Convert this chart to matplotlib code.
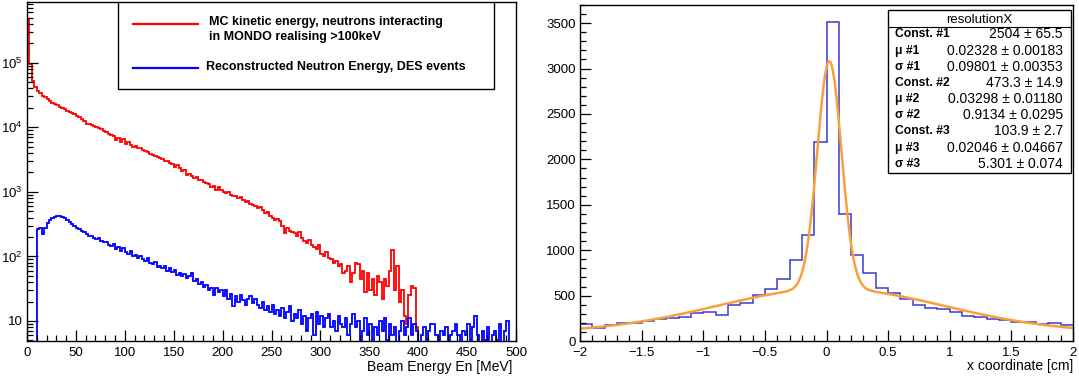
import numpy as np
import matplotlib
matplotlib.use("Agg")
import matplotlib.pyplot as plt
from matplotlib.patches import Rectangle
from matplotlib.ticker import MultipleLocator, FixedLocator, FixedFormatter, LogLocator, NullFormatter, FuncFormatter

plt.rcParams['font.family'] = ['Liberation Sans', 'DejaVu Sans']
plt.rcParams['mathtext.fontset'] = 'custom'
plt.rcParams['mathtext.rm'] = 'Liberation Sans'
plt.rcParams['mathtext.it'] = 'Liberation Sans'

# ---- left panel: energy spectra, 2.5 MeV bins from 0 to 500 ----
energy_edges = np.arange(0, 502.5, 2.5)

mc_kinetic = [
    460000, 95000, 52000, 42000, 37000, 33500, 31000, 29000, 27000, 25500,
    24000, 23000, 21800, 20700, 19800, 18900, 18000, 17300, 16400, 15800,
    14900, 14300, 13500, 12600, 11300, 11200, 10900, 10500, 10000, 9600,
    9300, 8800, 8500, 8000, 7700, 7300, 6400, 6900, 6000, 6500,
    5500, 5900, 5300, 5000, 5200, 4800, 4700, 4400, 4300, 4100,
    3900, 3700, 3600, 3450, 3300, 3200, 3000, 3050, 2800, 2700,
    2450, 2650, 2300, 2100, 2200, 1850, 1900, 1750, 1650, 1700,
    1500, 1550, 1400, 1350, 1300, 1200, 1250, 1050, 1180, 1050,
    1000, 950, 1000, 900, 870, 850, 800, 840, 760, 700,
    720, 640, 620, 600, 560, 580, 520, 470, 480, 430,
    400, 370, 380, 350, 300, 230, 280, 250, 240, 230,
    210, 240, 190, 175, 160, 180, 150, 140, 130, 150,
    110, 100, 115, 95, 90, 80, 85, 70, 75, 55,
    60, 70, 40, 55, 80, 75, 45, 60, 28, 55,
    30, 45, 25, 50, 40, 22, 45, 35, 60, 125,
    30, 70, 20, 30, 12, 9, 25, 35, 32, 8,
] + [0] * 40

des_reco = [
    0, 0, 0, 0, 270, 280, 220, 280, 330, 370,
    395, 410, 420, 415, 410, 390, 370, 345, 320, 300,
    280, 265, 245, 235, 220, 205, 210, 195, 185, 190,
    175, 165, 170, 150, 145, 155, 130, 140, 120, 135,
    115, 110, 120, 100, 105, 95, 100, 90, 85, 95,
    78, 75, 82, 68, 72, 65, 70, 60, 65, 58,
    62, 52, 56, 50, 54, 46, 50, 56, 42, 45,
    38, 40, 34, 36, 30, 33, 25, 32, 28, 30,
    24, 30, 22, 26, 17, 24, 20, 25, 21, 18,
    22, 24, 19, 22, 18, 16, 20, 15, 17, 14,
    18, 13, 15, 12, 16, 11, 14, 17, 10, 13,
    11, 15, 9, 12, 7, 11, 13, 6, 14, 9,
    12, 8, 11, 13, 8, 10, 7, 12, 9, 8,
    11, 6, 9, 13, 8, 10, 0, 7, 11, 6,
    9, 5, 8, 6, 10, 7, 11, 5, 9, 6,
    8, 0, 7, 10, 6, 8, 11, 6, 9, 7,
    0, 6, 8, 5, 7, 9, 9, 6, 0, 7,
    6, 8, 0, 6, 7, 9, 6, 0, 7, 6,
    9, 5, 8, 12, 6, 0, 7, 5, 8, 0,
    6, 7, 5, 9, 0, 7, 10, 0, 0, 0,
]

legend_labels = ["MC kinetic energy, neutrons interacting\nin MONDO realising >100keV",
                 "Reconstructed Neutron Energy, DES events"]

# ---- right panel: x resolution, 0.1 cm bins from -2 to 2 ----
x_edges = np.round(np.arange(-2.0, 2.05, 0.1), 2)
x_counts = [
    192, 144, 181, 200, 200, 218, 237, 255, 266, 303,
    322, 281, 396, 414, 507, 570, 681, 895, 1162, 2190,
    3512, 1395, 951, 747, 581, 525, 463, 396, 366, 352,
    315, 278, 259, 240, 229, 211, 204, 192, 200, 181,
]

# triple gaussian fit results from the stats box
fit_const = [2504, 473.3, 103.9]
fit_mean = [0.02328, 0.03298, 0.02046]
fit_sigma = [0.09801, 0.9134, 5.301]
stat_names = ["Const. #1", "\u03bc #1", "\u03c3 #1",
              "Const. #2", "\u03bc #2", "\u03c3 #2",
              "Const. #3", "\u03bc #3", "\u03c3 #3"]
stat_values = ["2504 \u00b1 65.5", "0.02328 \u00b1 0.00183", "0.09801 \u00b1 0.00353",
               "473.3 \u00b1 14.9", "0.03298 \u00b1 0.01180", "0.9134 \u00b1 0.0295",
               "103.9 \u00b1 2.7", "0.02046 \u00b1 0.04667", "5.301 \u00b1 0.074"]

W, H = 1079, 377
fig = plt.figure(figsize=(W / 100, H / 100), dpi=100)

def px_axes(x0, x1, ytop, ybot):
    return fig.add_axes([x0 / W, 1 - ybot / H, (x1 - x0) / W, (ybot - ytop) / H])

ax1 = px_axes(27, 516, 2, 341)
ax2 = px_axes(580, 1073, 5, 341)

tick_fs = 9.5

# ---------- left ----------
mc = np.where(np.array(mc_kinetic) > 0, mc_kinetic, 0.5)
des = np.where(np.array(des_reco) > 0, des_reco, 0.5)
ax1.stairs(mc, energy_edges, color='#ff0000', lw=1.3, baseline=None)
ax1.stairs(des, energy_edges, color='#0000ff', lw=1.3, baseline=None)
ax1.set_yscale('log')
ax1.set_xlim(0, 500)
ax1.set_ylim(4.9, 8.7e5)
ax1.xaxis.set_major_locator(MultipleLocator(50))
ax1.xaxis.set_minor_locator(MultipleLocator(10))
ax1.yaxis.set_major_locator(FixedLocator([10, 1e2, 1e3, 1e4, 1e5]))
ax1.yaxis.set_major_formatter(FixedFormatter(['10', r'$10^2$', r'$10^3$', r'$10^4$', r'$10^5$']))
ax1.yaxis.set_minor_locator(LogLocator(base=10, subs=np.arange(2, 10), numticks=20))
ax1.yaxis.set_minor_formatter(NullFormatter())
ax1.set_xlabel('Beam Energy En [MeV]', fontsize=10, labelpad=1)
ax1.xaxis.set_label_coords(0.992, -0.055, transform=ax1.transAxes)
ax1.xaxis.label.set_ha('right')
ax1.xaxis.label.set_va('top')

# legend box drawn in axes fraction
ax1.add_patch(Rectangle((0.186, 0.743), 0.769, 0.257, transform=ax1.transAxes,
                        facecolor='white', edgecolor='black', lw=1.0, zorder=5))
ax1.plot([0.2168, 0.3497], [0.935, 0.935], transform=ax1.transAxes, color='#ff0000', lw=1.6, zorder=6)
ax1.text(0.372, 0.9196, legend_labels[0], transform=ax1.transAxes, fontsize=9,
         fontweight='bold', va='center', ha='left', linespacing=1.32, zorder=6)
ax1.plot([0.2168, 0.3497], [0.8065, 0.8065], transform=ax1.transAxes, color='#0000ff', lw=1.6, zorder=6)
ax1.text(0.366, 0.808, legend_labels[1], transform=ax1.transAxes, fontsize=9,
         fontweight='bold', va='center', ha='left', zorder=6)

# ---------- right ----------
ax2.stairs(x_counts, x_edges, color='#3a3acb', lw=1.1, baseline=None)
xf = np.linspace(-2, 2, 801)
yf = np.zeros_like(xf)
for c, m, s in zip(fit_const, fit_mean, fit_sigma):
    yf += c * np.exp(-0.5 * ((xf - m) / s) ** 2)
ax2.plot(xf, yf, color='#f7a03c', lw=1.8)
ax2.set_xlim(-2, 2)
ax2.set_ylim(0, 3700)
ax2.xaxis.set_major_locator(MultipleLocator(0.5))
ax2.xaxis.set_minor_locator(MultipleLocator(0.1))
ax2.xaxis.set_major_formatter(FuncFormatter(lambda v, p: ('%g' % v).replace('-', '\u2212')))
ax2.yaxis.set_major_locator(MultipleLocator(500))
ax2.yaxis.set_minor_locator(MultipleLocator(100))
ax2.set_xlabel('x coordinate [cm]', fontsize=10)
ax2.xaxis.set_label_coords(1.0, -0.055, transform=ax2.transAxes)
ax2.xaxis.label.set_ha('right')
ax2.xaxis.label.set_va('top')

# stats box
ax2.add_patch(Rectangle((0.625, 0.5), 0.371, 0.4866, transform=ax2.transAxes,
                        facecolor='white', edgecolor='black', lw=1.0, zorder=5))
ax2.plot([0.625, 0.996], [0.9345, 0.9345], transform=ax2.transAxes, color='black', lw=0.8, zorder=6)
ax2.text(0.810, 0.961, 'resolutionX', transform=ax2.transAxes, fontsize=9.5,
         ha='center', va='center_baseline', zorder=6)
for i, (name, val) in enumerate(zip(stat_names, stat_values)):
    yy = 0.9167 - i * 0.0481
    ax2.text(0.639, yy, name, transform=ax2.transAxes, fontsize=8.7, fontweight='bold',
             ha='left', va='center_baseline', zorder=6)
    ax2.text(0.9797, yy, val, transform=ax2.transAxes, fontsize=10,
             ha='right', va='center_baseline', zorder=6)

for ax in (ax1, ax2):
    ax.tick_params(which='both', direction='in', top=False, right=False, labelsize=tick_fs)
    ax.tick_params(which='major', length=8, width=0.9)
    ax.tick_params(which='minor', length=4, width=0.9)
    ax.tick_params(axis='x', pad=4)
    ax.tick_params(axis='y', pad=3)
    for sp in ax.spines.values():
        sp.set_linewidth(1.0)

fig.savefig('out.png', dpi=100)
